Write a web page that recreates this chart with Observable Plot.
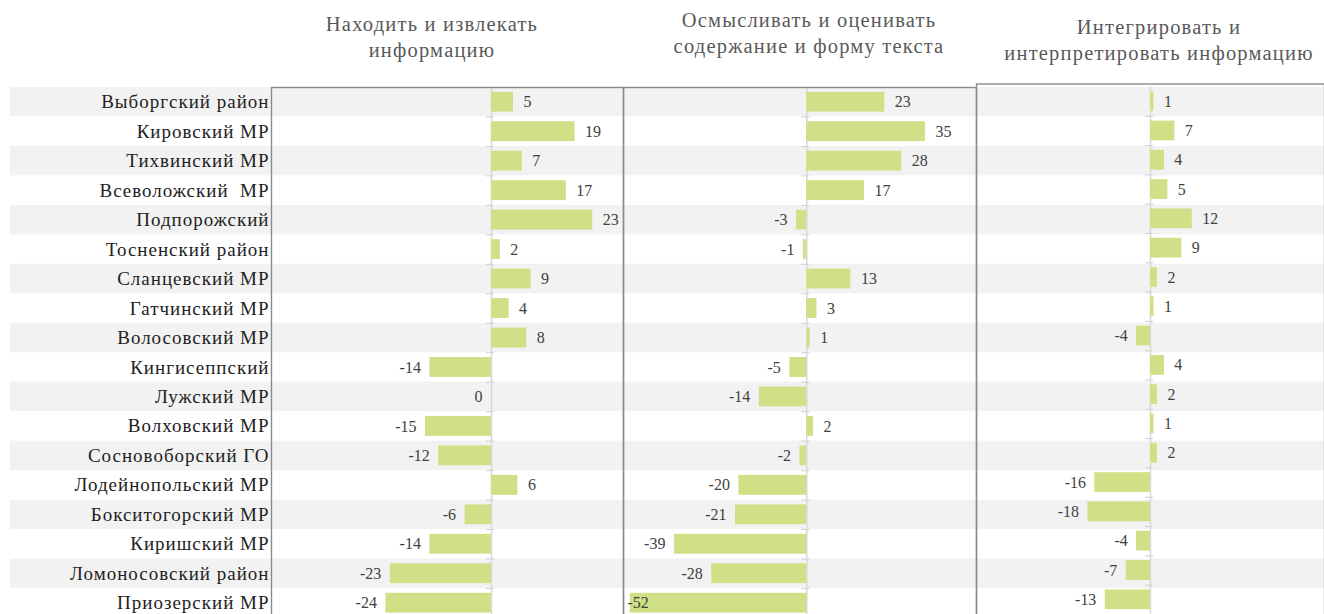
<!DOCTYPE html>
<html>
<head>
<meta charset="utf-8">
<script src="https://cdn.jsdelivr.net/npm/d3@7"></script>
<script src="https://cdn.jsdelivr.net/npm/@observablehq/plot@0.6"></script>
<style>
  html, body { margin: 0; padding: 0; background: #fff; overflow: hidden; }
  #chart { position: relative; width: 1324px; height: 614px; overflow: hidden; font-family: "Liberation Serif", serif; }
  #chart > div { position: absolute; line-height: 0; }
  #chart svg { display: block; }
  .title { color: #595959; font-size: 20.5px; letter-spacing: 1.2px; line-height: 26px !important; text-align: center; white-space: nowrap; transform: translateX(-50%); }
</style>
</head>
<body>
<div id="chart"></div>
<script>
const regions = [
  "Выборгский район", "Кировский МР", "Тихвинский МР", "Всеволожский  МР", "Подпорожский",
  "Тосненский район", "Сланцевский МР", "Гатчинский МР", "Волосовский МР", "Кингисеппский",
  "Лужский МР", "Волховский МР", "Сосновоборский ГО", "Лодейнопольский МР", "Бокситогорский МР",
  "Киришский МР", "Ломоносовский район", "Приозерский МР"
];
const findValues      = [5, 19, 7, 17, 23, 2, 9, 4, 8, -14, 0, -15, -12, 6, -6, -14, -23, -24];
const assessValues    = [23, 35, 28, 17, -3, -1, 13, 3, 1, -5, -14, 2, -2, -20, -21, -39, -28, -52];
const integrateValues = [1, 7, 4, 5, 12, 9, 2, 1, -4, 4, 2, 1, 2, -16, -18, -4, -7, -13];
const panelTitles = [
  ["Находить и извлекать", "информацию"],
  ["Осмысливать и оценивать", "содержание и форму текста"],
  ["Интегрировать и", "интерпретировать информацию"]
];
const panelDomains = [[-50, 30], [-54, 50], [-50, 50]];

// layout (the chart continues below the visible 614px, so the bottom of the panels is cut off)
const W = 1324, TOP = 87, ROW = 29.47, BOTTOM = 40;
const H = TOP + regions.length * ROW + BOTTOM;
const panelLeft = [271, 623, 976];
const panelWidth = [352, 353, 350];
const frameShift = [0, 0, -3];
const titleCenter = [432, 809, 1159];
const titleTop = [11, 7, 14];

const BAR = "#cfe086", STRIPE = "#f2f2f2";
const chart = document.getElementById("chart");

function place(el, left, top) {
  const d = document.createElement("div");
  d.style.left = left + "px"; d.style.top = top + "px";
  d.appendChild(el);
  chart.appendChild(d);
  return d;
}

// background stripes + region labels
const stripeRows = regions.filter((r, i) => i % 2 === 0);
const bg = Plot.plot({
  width: W, height: H,
  marginLeft: 10, marginRight: 0, marginTop: TOP, marginBottom: BOTTOM,
  x: {domain: [0, 1], axis: null},
  y: {domain: regions, axis: null, padding: 0, round: false},
  style: {fontFamily: "Liberation Serif, serif", background: "transparent", letterSpacing: "1px"},
  marks: [
    Plot.barX(stripeRows, {y: d => d, x1: 0, x2: 1, fill: STRIPE}),
    Plot.text(regions, {y: d => d, frameAnchor: "left", dx: 259, textAnchor: "end",
      fill: "#222222", fontSize: 19})
  ]
});
place(bg, 0, 0);

// panels
const series = [findValues, assessValues, integrateValues];
series.forEach((vals, p) => {
  const dom = panelDomains[p];
  const data = regions.map((r, i) => ({region: r, value: vals[i]}));
  const overflow = d => d.value < 0 && d.value <= dom[0] + 6;
  const pos = data.filter(d => d.value > 0);
  const neg = data.filter(d => d.value <= 0 && !overflow(d));
  const inside = data.filter(overflow);
  const plot = Plot.plot({
    width: panelWidth[p], height: H,
    marginLeft: 0, marginRight: 0, marginTop: TOP, marginBottom: BOTTOM,
    x: {domain: dom, axis: null},
    y: {domain: regions, axis: null, padding: 0, round: false},
    style: {fontFamily: "Liberation Serif, serif", background: "transparent", overflow: "visible"},
    marks: [
      Plot.ruleX([0], {stroke: "#d9d9d9", strokeWidth: 1.5}),
      Plot.ruleY(regions.slice(1), {y: d => d, x1: 0, x2: 0, insetLeft: -5, insetRight: -3,
        dy: -ROW / 2, stroke: "#d0d0d0"}),
      Plot.barX(data, {y: "region", x: "value", fill: BAR, insetTop: 4.8, insetBottom: 4.8}),
      Plot.text(pos, {y: "region", x: "value", text: d => String(d.value), dx: 10,
        textAnchor: "start", fill: "#404040", fontSize: 16}),
      Plot.text(neg, {y: "region", x: "value", text: d => String(d.value), dx: -9,
        textAnchor: "end", fill: "#404040", fontSize: 16}),
      Plot.text(inside, {y: "region", x: dom[0], text: d => String(d.value), dx: 4,
        textAnchor: "start", fill: "#404040", fontSize: 16}),
      Plot.frame({stroke: "#8a8a8a", strokeWidth: 1.4, dy: frameShift[p], insetBottom: -30})
    ]
  });
  place(plot, panelLeft[p], 0);

  const t = document.createElement("div");
  t.className = "title";
  t.innerHTML = panelTitles[p].join("<br>");
  place(t, titleCenter[p], titleTop[p]);
});
</script>
</body>
</html>
